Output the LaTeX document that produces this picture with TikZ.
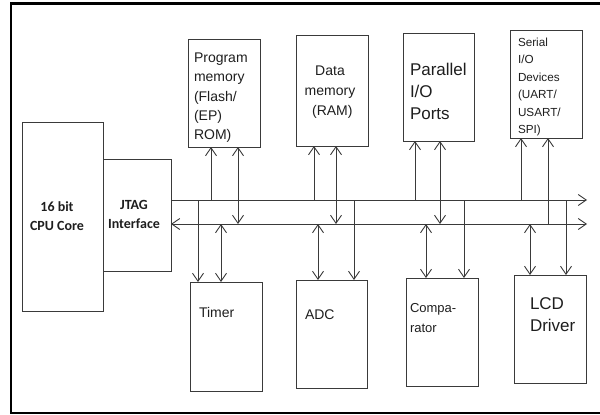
\documentclass[tikz,border=0pt]{standalone}
\usepackage{fontspec}
\setmainfont{Liberation Sans}
\newfontfamily\calfont{Carlito}
\usetikzlibrary{arrows.meta}
\definecolor{ln}{HTML}{3A3A3A}
\definecolor{tx}{HTML}{1E1E1E}
\tikzset{
  blk/.style={draw=ln, line width=1pt, minimum width=#1, inner sep=0pt, outer sep=0pt},
  lbl/.style={inner sep=0pt, outer sep=0pt, text=tx, anchor=north west, align=left},
  conn/.style={draw=ln, line width=1pt},
  arr/.tip={Straight Barb[length=8pt, width=11pt, line width=0.9pt]}
}
\begin{document}
\begin{tikzpicture}[x=1pt, y=-1pt]
\useasboundingbox (0,0) rectangle (600,415);
% frame
\draw[line width=2.6pt, black] (600,3.5) -- (11,3.5) -- (11,413) -- (600,413);

% blocks
\node[blk=81pt, minimum height=189pt] (cpu)   at (62.5,216.5) {};
\node[blk=68pt, minimum height=112pt] (jtag)  at (137,215) {};
\node[blk=72pt, minimum height=108pt] (pm)    at (224,93) {};
\node[blk=72pt, minimum height=111pt] (dm)    at (332,90.5) {};
\node[blk=71pt, minimum height=108pt] (pio)   at (438.5,87) {};
\node[blk=72pt, minimum height=108pt] (sio)   at (546,84) {};
\node[blk=72pt, minimum height=109pt] (timer) at (226,336.5) {};
\node[blk=71pt, minimum height=108pt] (adc)   at (331.5,334) {};
\node[blk=72pt, minimum height=108pt] (cmp)   at (442,332) {};
\node[blk=72pt, minimum height=108pt] (lcd)   at (550,329) {};

% labels
\node[lbl, anchor=north, align=center, font=\calfont\bfseries\fontsize{14}{19}\selectfont] (cpuT) at (57,202) {16 bit\\CPU Core};
\node[lbl, anchor=north, align=center, font=\calfont\bfseries\fontsize{14}{19}\selectfont] (jtagT) at (134,200) {JTAG\\Interface};
\node[lbl, font=\fontsize{14}{19.3}\selectfont] (pmT) at (194,53) {Program\\memory\\(Flash/\\(EP)\\ROM)};
\node[lbl, anchor=north, align=center, font=\fontsize{14}{20}\selectfont] (dmT) at (330,66) {Data\\memory\\\,\,(RAM)};
\node[lbl, font=\fontsize{17}{22}\selectfont] (pioT) at (410,63) {Parallel\\I/O\\Ports};
\node[lbl, font=\fontsize{11.7}{17.4}\selectfont] (sioT) at (518,38) {Serial\\I/O\\Devices\\(UART/\\USART/\\SPI)};
\node[lbl, font=\fontsize{14}{19}\selectfont] (timerT) at (199,307) {Timer};
\node[lbl, font=\fontsize{14}{19}\selectfont] (adcT) at (305,310) {ADC};
\node[lbl, font=\fontsize{13}{20}\selectfont] (cmpT) at (410,303) {Compa-\\rator};
\node[lbl, font=\fontsize{17}{22}\selectfont] (lcdT) at (530,298) {LCD\\Driver};

% buses
\coordinate (tL) at (171,200);
\coordinate (tR) at (587,200);
\coordinate (bL) at (171,224);
\coordinate (bR) at (587,224);
\draw[conn, -arr] (tL) -- (tR);
\draw[conn, arr-arr] (bL) -- (bR);

% program memory
\draw[conn, -arr] ([xshift=-13pt]pm.south |- tL) -- ([xshift=-13pt]pm.south);
\draw[conn, arr-arr] ([xshift=14pt]pm.south |- bL) -- ([xshift=14pt]pm.south);
% timer
\draw[conn, -arr] ([xshift=-28pt]timer.north |- tL) -- ([xshift=-28pt]timer.north);
\draw[conn, arr-arr] ([xshift=-5pt]timer.north |- bL) -- ([xshift=-5pt]timer.north);
% data memory
\draw[conn, -arr] ([xshift=-18pt]dm.south |- tL) -- ([xshift=-18pt]dm.south);
\draw[conn, arr-arr] ([xshift=4pt]dm.south |- bL) -- ([xshift=4pt]dm.south);
% adc
\draw[conn, -arr] ([xshift=22.5pt]adc.north |- tL) -- ([xshift=22.5pt]adc.north);
\draw[conn, arr-arr] ([xshift=-13.5pt]adc.north |- bL) -- ([xshift=-13.5pt]adc.north);
% parallel io
\draw[conn, -arr] ([xshift=-23.5pt]pio.south |- tL) -- ([xshift=-23.5pt]pio.south);
\draw[conn, arr-arr] ([xshift=1.5pt]pio.south |- bL) -- ([xshift=1.5pt]pio.south);
% comparator
\draw[conn, -arr] ([xshift=22pt]cmp.north |- tL) -- ([xshift=22pt]cmp.north);
\draw[conn, arr-arr] ([xshift=-16pt]cmp.north |- bL) -- ([xshift=-16pt]cmp.north);
% serial io
\draw[conn, -arr] ([xshift=-25pt]sio.south |- tL) -- ([xshift=-25pt]sio.south);
\draw[conn, -arr] ([xshift=2pt]sio.south |- bL) -- ([xshift=2pt]sio.south);
% lcd
\draw[conn, -arr] ([xshift=16pt]lcd.north |- tL) -- ([xshift=16pt]lcd.north);
\draw[conn, arr-arr] ([xshift=-20pt]lcd.north |- bL) -- ([xshift=-20pt]lcd.north);
\end{tikzpicture}
\end{document}
